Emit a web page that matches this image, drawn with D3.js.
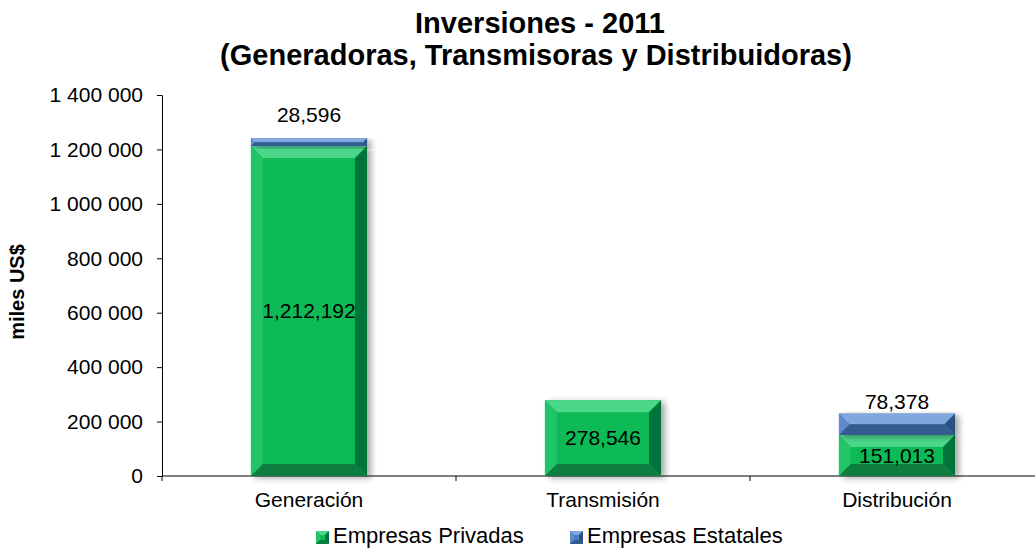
<!DOCTYPE html>
<html>
<head>
<meta charset="utf-8">
<script src="https://cdn.jsdelivr.net/npm/d3@7"></script>
<style>
  body { margin: 0; background: #fff; }
  svg { font-family: "Liberation Sans", Arial, sans-serif; }
</style>
</head>
<body>
<svg width="1035" height="550"></svg>
<script>
// data
const categories = ["Generación", "Transmisión", "Distribución"]
const privadas = [1212192, 278546, 151013]
const estatales = [28596, 0, 78378]
const seriesNames = ["Empresas Privadas", "Empresas Estatales"]
const yTicks = [0, 200000, 400000, 600000, 800000, 1000000, 1200000, 1400000]

const svg = d3.select("svg")
const m = {l: 162, r: 1044, t: 95, b: 476}

const x = d3.scaleBand().domain(categories).range([m.l, m.r]).paddingInner(0.605).paddingOuter(0.3025)
const y = d3.scaleLinear().domain([0, 1400000]).range([m.b, m.t])

const fmtTick = d => d3.format(",")(d).replace(/,/g, " ")
const fmtLab = d3.format(",")

//palette: [main, top, left, right, bottom]
const pal = {
  g: ["#0BBA57", "#4BD68A", "#22C468", "#05743A", "#087E40"],
  b: ["#4A7EC0", "#80A8DE", "#5B8CCB", "#2C5182", "#345C8E"]
}

// shadow filter
const defs = svg.append("defs")
const f = defs.append("filter").attr("id", "sh").attr("x", "-20%").attr("y", "-20%").attr("width", "150%").attr("height", "150%")
f.append("feGaussianBlur").attr("in", "SourceAlpha").attr("stdDeviation", 3)
f.append("feOffset").attr("dx", 4).attr("dy", 2).attr("result", "ob")
f.append("feComponentTransfer").append("feFuncA").attr("type", "linear").attr("slope", 0.35)
const mg = f.append("feMerge")
mg.append("feMergeNode")
mg.append("feMergeNode").attr("in", "SourceGraphic")

// bevel box
const bevel = (g, x0, y0, w, h, c, bv, shadow) => {
  let b = Math.min(bv, h / 2, w / 2)
  let x1 = x0 + w, y1 = y0 + h
  let grp = g.append("g")
  if (shadow) grp.attr("filter", "url(#sh)")
  grp.append("rect").attr("x", x0).attr("y", y0).attr("width", w).attr("height", h).attr("fill", c[0])
  const poly = (pts, col) => grp.append("polygon").attr("points", pts.map(p => p.join(",")).join(" ")).attr("fill", col)
  poly([[x0, y0], [x1, y0], [x1 - b, y0 + b], [x0 + b, y0 + b]], c[1])
  poly([[x0, y0], [x0 + b, y0 + b], [x0 + b, y1 - b], [x0, y1]], c[2])
  poly([[x1, y0], [x1, y1], [x1 - b, y1 - b], [x1 - b, y0 + b]], c[3])
  poly([[x0, y1], [x0 + b, y1 - b], [x1 - b, y1 - b], [x1, y1]], c[4])
}

// title
svg.append("text").attr("x", 540).attr("y", 33).attr("text-anchor", "middle")
  .attr("font-size", 29).attr("font-weight", "bold").text("Inversiones - 2011")
svg.append("text").attr("x", 536).attr("y", 65).attr("text-anchor", "middle")
  .attr("font-size", 29).attr("font-weight", "bold").text("(Generadoras, Transmisoras y Distribuidoras)")

// axes
const yAxis = svg.append("g").attr("transform", `translate(${m.l},0)`)
  .call(d3.axisLeft(y).tickValues(yTicks).tickFormat(fmtTick).tickSize(5).tickPadding(14).tickSizeOuter(0))
yAxis.select(".domain").attr("stroke", "#000")
yAxis.selectAll(".tick line").attr("stroke", "#000")
yAxis.selectAll("text").attr("font-size", 21).attr("fill", "#000").attr("font-family", "Liberation Sans, Arial")

const xAxis = svg.append("g").attr("transform", `translate(0,${m.b})`)
  .call(d3.axisBottom(x).tickSize(0).tickPadding(16))
xAxis.select(".domain").attr("stroke", "#000").attr("d", `M${m.l},0H${m.r}`)
xAxis.selectAll("text").attr("font-size", 21).attr("fill", "#000").attr("font-family", "Liberation Sans, Arial")
// tick marks at category boundaries
const bounds = categories.map(c => x(c) - x.step() * x.paddingOuter())
bounds.push(m.r)
svg.append("g").selectAll("line").data(bounds).enter().append("line")
  .attr("x1", d => d).attr("x2", d => d).attr("y1", m.b).attr("y2", m.b + 5).attr("stroke", "#000")

svg.append("text").attr("transform", `translate(24,292) rotate(-90)`)
  .attr("text-anchor", "middle").attr("font-size", 20).attr("font-weight", "bold").text("miles US$")

// bars
const bars = svg.append("g")
categories.forEach((c, i) => {
  let bx = x(c), bw = x.bandwidth()
  let p = privadas[i], e = estatales[i]
  bevel(bars, bx, y(p), bw, y(0) - y(p), pal.g, 12, true)
  if (e > 0) bevel(bars, bx, y(p + e), bw, y(p) - y(p + e), pal.b, 12, true)
})

// labels
const labs = svg.append("g").attr("font-size", 21).attr("text-anchor", "middle").attr("fill", "#000")
const topGap = [16, 0, 5]
categories.forEach((c, i) => {
  let cx = x(c) + x.bandwidth() / 2
  let p = privadas[i], e = estatales[i]
  labs.append("text").attr("x", cx).attr("y", y(p / 2)).attr("dy", "0.35em").text(fmtLab(p))
  if (e > 0) labs.append("text").attr("x", cx).attr("y", y(p + e) - topGap[i]).text(fmtLab(e))
})

// legend
const leg = svg.append("g")
const legX = [316, 570]
seriesNames.forEach((s, i) => {
  let c = i == 0 ? pal.g : pal.b
  bevel(leg, legX[i], 531, 13, 13, c, 4, false)
  leg.append("text").attr("x", legX[i] + 17).attr("y", 543).attr("font-size", 22).text(s)
})
</script>
</body>
</html>
